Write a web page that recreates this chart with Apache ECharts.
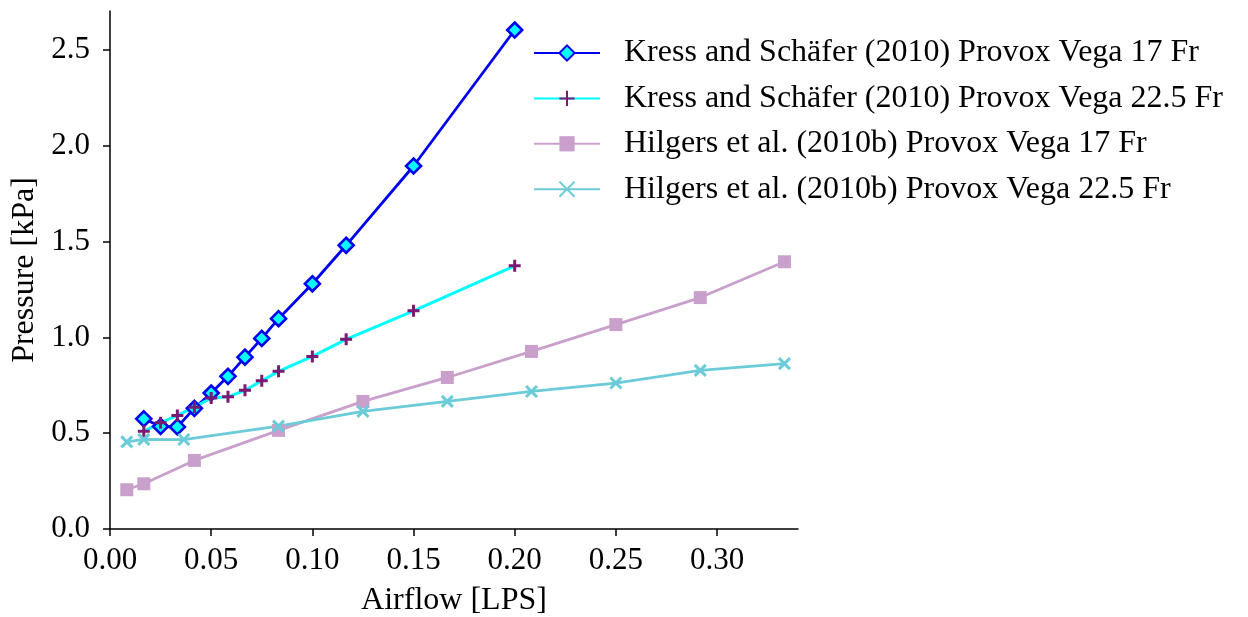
<!DOCTYPE html>
<html>
<head>
<meta charset="utf-8">
<script src="https://cdn.jsdelivr.net/npm/echarts@6/dist/echarts.min.js"></script>
<style>
  html, body { margin: 0; padding: 0; background: #fff; }
  #chart { width: 1248px; height: 617px; }
</style>
</head>
<body>
<div id="chart"></div>
<script>
// airflow [LPS] and pressure [kPa]
const kress17X = [0.0167, 0.025, 0.0333, 0.0417, 0.05, 0.0583, 0.0667, 0.075, 0.0833, 0.1, 0.1167, 0.15, 0.2]
const kress17Y = [0.575, 0.535, 0.533, 0.63, 0.71, 0.797, 0.897, 0.995, 1.098, 1.28, 1.481, 1.895, 2.605]

const kress22X = [0.0167, 0.025, 0.0333, 0.0417, 0.05, 0.0583, 0.0667, 0.075, 0.0833, 0.1, 0.1167, 0.15, 0.2]
const kress22Y = [0.51, 0.555, 0.593, 0.636, 0.684, 0.69, 0.724, 0.774, 0.823, 0.901, 0.99, 1.139, 1.374]

const hilgers17X = [0.0083, 0.0167, 0.0417, 0.0833, 0.125, 0.1667, 0.2083, 0.25, 0.2917, 0.3333]
const hilgers17Y = [0.205, 0.236, 0.358, 0.515, 0.666, 0.791, 0.927, 1.067, 1.208, 1.395]

const hilgers22X = [0.0083, 0.0167, 0.0365, 0.0833, 0.125, 0.1667, 0.2083, 0.25, 0.2917, 0.3333]
const hilgers22Y = [0.455, 0.468, 0.467, 0.537, 0.614, 0.666, 0.718, 0.762, 0.828, 0.863]

const seriesNames = [
    'Kress and Schäfer (2010) Provox Vega 17 Fr',
    'Kress and Schäfer (2010) Provox Vega 22.5 Fr',
    'Hilgers et al. (2010b) Provox Vega 17 Fr',
    'Hilgers et al. (2010b) Provox Vega 22.5 Fr'
]
const xTicks = [0, 0.05, 0.1, 0.15, 0.2, 0.25, 0.3]
const yTicks = [0, 0.5, 1.0, 1.5, 2.0, 2.5]

const font = 'Liberation Serif'
const pair = (xs, ys) => xs.map((x, i) => [x, ys[i]])
const plusPath = 'path://M5,0L5,10M0,5L10,5'
const crossPath = 'path://M0,0L10,10M10,0L0,10'

const chart = echarts.init(document.getElementById('chart'))

const axisCommon = {
    axisLine: { show: true, onZero: false, lineStyle: { color: '#000', width: 1.5 } },
    axisTick: { show: true, length: 7, lineStyle: { color: '#000', width: 1.5 } },
    splitLine: { show: false },
    nameLocation: 'middle',
    nameTextStyle: { fontFamily: font, fontSize: 32, color: '#000' }
}

const option = {
    animation: false,
    backgroundColor: '#fff',
    grid: { left: 110, top: 11, width: 688, height: 518, containLabel: false, outerBoundsMode: 'none' },
    legend: {
        orient: 'vertical',
        left: 533,
        top: 37,
        padding: 0,
        itemWidth: 66,
        itemHeight: 19,
        itemGap: 13.4,
        textStyle: { fontFamily: font, fontSize: 32, color: '#000', lineHeight: 30, padding: [0, 0, 0, 19] },
        data: seriesNames
    },
    xAxis: Object.assign({}, axisCommon, {
        type: 'value',
        min: 0,
        max: 0.34,
        interval: 0.05,
        name: 'Airflow [LPS]',
        nameGap: 56,
        axisTick: Object.assign({}, axisCommon.axisTick, { customValues: xTicks }),
        axisLabel: {
            customValues: xTicks,
            margin: 16,
            fontFamily: font, fontSize: 31, color: '#000',
            formatter: v => v.toFixed(2)
        }
    }),
    yAxis: Object.assign({}, axisCommon, {
        type: 'value',
        min: 0,
        max: 2.704,
        interval: 0.5,
        name: 'Pressure [kPa]',
        nameGap: 65,
        axisTick: Object.assign({}, axisCommon.axisTick, { customValues: yTicks }),
        axisLabel: {
            customValues: yTicks,
            margin: 20,
            fontFamily: font, fontSize: 31, color: '#000',
            formatter: v => v.toFixed(1)
        }
    }),
    series: [
        {
            name: seriesNames[0],
            type: 'line',
            data: pair(kress17X, kress17Y),
            symbol: 'diamond',
            symbolSize: 15,
            showAllSymbol: true,
            lineStyle: { color: '#0000f0', width: 2.8 },
            itemStyle: { color: '#00ffff', borderColor: '#0000f0', borderWidth: 2.6 }
        },
        {
            name: seriesNames[1],
            type: 'line',
            data: pair(kress22X, kress22Y),
            symbol: plusPath,
            symbolSize: 12,
            showAllSymbol: true,
            lineStyle: { color: '#00ffff', width: 3 },
            itemStyle: { color: '#7a1a72', borderColor: '#7a1a72', borderWidth: 3 }
        },
        {
            name: seriesNames[2],
            type: 'line',
            data: pair(hilgers17X, hilgers17Y),
            symbol: 'rect',
            symbolSize: 13,
            showAllSymbol: true,
            lineStyle: { color: '#c8a0cb', width: 2.8 },
            itemStyle: { color: '#c8a0cb', borderWidth: 0 }
        },
        {
            name: seriesNames[3],
            type: 'line',
            data: pair(hilgers22X, hilgers22Y),
            symbol: crossPath,
            symbolSize: 11,
            showAllSymbol: true,
            lineStyle: { color: '#6ccbd8', width: 2.8 },
            itemStyle: { color: '#6ccbd8', borderColor: '#6ccbd8', borderWidth: 3 }
        }
    ]
}

chart.setOption(option)
</script>
</body>
</html>
